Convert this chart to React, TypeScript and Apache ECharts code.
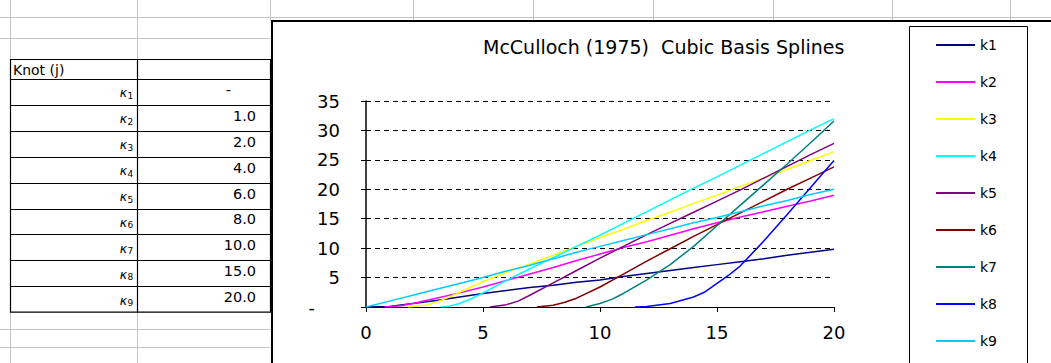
import React, { useEffect, useRef } from "react";
import * as echarts from "echarts";

// ---------- data ----------
const chartTitle = "McCulloch (1975)  Cubic Basis Splines";
const seriesNames = ["k1", "k2", "k3", "k4", "k5", "k6", "k7", "k8", "k9"];
const seriesColors = ["#000080", "#FF00FF", "#FFFF00", "#00FFFF", "#800080", "#800000", "#008080", "#0000FF", "#00CCFF"];

const k1: [number, number][] = [[0, 0], [1, 0.1], [2, 0.6], [3, 1.1], [4, 1.7], [5, 2.3], [6, 2.8], [7, 3.3], [8, 3.7], [9, 4.2], [10, 4.6], [11, 5.2], [12, 5.7], [13, 6.2], [14, 6.7], [15, 7.2], [16, 7.7], [17, 8.2], [18, 8.8], [19, 9.3], [20, 9.8]];
const k2: [number, number][] = [[0.8, 0], [1.5, 0.2], [2, 0.6], [3, 1.5], [4, 2.4], [5, 3.4], [6, 4.5], [7, 5.6], [8, 6.7], [9, 7.9], [10, 9.0], [11, 10.1], [12, 11.1], [13, 12.2], [14, 13.3], [15, 14.3], [16, 15.3], [17, 16.2], [18, 17.1], [19, 18.0], [20, 19.0]];
const k3: [number, number][] = [[1.8, 0], [2.5, 0.3], [3, 0.8], [3.5, 1.6], [4, 2.5], [5, 4.3], [6, 5.9], [7, 7.3], [8, 8.8], [9, 10.3], [10, 11.8], [11, 13.2], [12, 14.7], [13, 16.1], [14, 17.6], [15, 19.0], [16, 20.5], [17, 21.9], [18, 23.4], [19, 24.9], [20, 26.4]];
const k4: [number, number][] = [[3.2, 0], [3.5, 0.1], [4, 0.6], [4.5, 1.4], [5, 2.4], [6, 4.5], [7, 6.5], [8, 8.4], [9, 10.3], [10, 12.2], [11, 14.2], [12, 16.2], [13, 18.2], [14, 20.2], [15, 22.1], [16, 24.1], [17, 26.1], [18, 28.1], [19, 30.1], [20, 32.0]];
const k5: [number, number][] = [[5.3, 0], [6, 0.4], [6.5, 1.0], [7, 2.0], [8, 4.1], [9, 6.2], [10, 8.3], [11, 10.3], [12, 12.3], [13, 14.2], [14, 16.1], [15, 18.0], [16, 19.9], [17, 21.9], [18, 23.9], [19, 25.9], [20, 27.8]];
const k6: [number, number][] = [[7.3, 0], [8, 0.3], [8.5, 0.8], [9, 1.5], [10, 3.4], [11, 5.6], [12, 7.8], [13, 9.9], [14, 12.0], [15, 14.0], [16, 16.0], [17, 18.0], [18, 20.0], [19, 21.9], [20, 23.8]];
const k7: [number, number][] = [[9.4, 0], [10, 0.6], [10.5, 1.3], [11, 2.3], [12, 4.6], [13, 7.2], [14, 10.3], [15, 13.8], [16, 17.3], [17, 20.8], [18, 24.3], [19, 27.9], [20, 31.6]];
const k8: [number, number][] = [[11.5, 0], [12, 0.1], [13, 0.6], [14, 1.7], [14.5, 2.6], [15, 4.0], [15.5, 5.4], [16, 7.0], [17, 11.2], [18, 15.7], [19, 20.3], [20, 24.9]];
const k9: [number, number][] = [[0, 0], [1, 1.0], [2, 2.0], [3, 3.0], [4, 4.0], [5, 5.0], [6, 6.1], [7, 7.1], [8, 8.2], [9, 9.3], [10, 10.3], [11, 11.3], [12, 12.3], [13, 13.3], [14, 14.3], [15, 15.2], [16, 16.2], [17, 17.2], [18, 18.1], [19, 19.1], [20, 20.0]];
const seriesData = [k1, k2, k3, k4, k5, k6, k7, k8, k9];

const tableHeader = "Knot (j)";
const knotSymbol = "κ";
const knotIndex = ["1", "2", "3", "4", "5", "6", "7", "8", "9"];
const knotValues = ["-", "1.0", "2.0", "4.0", "6.0", "8.0", "10.0", "15.0", "20.0"];

const X_MIN = 0, X_MAX = 20, X_STEP = 5;
const Y_MIN = 0, Y_MAX = 35, Y_STEP = 5;

// ---------- layout ----------
const FONT = "DejaVu Sans";
const GRAY = "#c4c4c4";

function line(x1: number, y1: number, x2: number, y2: number, stroke: string, lineWidth = 1) {
  return { type: "line", silent: true, shape: { x1, y1, x2, y2 }, style: { stroke, lineWidth } };
}
function text(t: string, x: number, y: number, align: string, size: number, extra: any = {}) {
  return {
    type: "text",
    silent: true,
    x,
    y,
    style: {
      text: t,
      fill: "#000",
      fontSize: size,
      fontFamily: FONT,
      align,
      textAlign: align,
      verticalAlign: "middle",
      textVerticalAlign: "middle",
      ...extra,
    },
  };
}

function buildGraphics() {
  const g: any[] = [];
  // spreadsheet gridlines
  g.push(line(0, 17.5, 1051, 17.5, GRAY));
  g.push(line(0, 38.5, 272, 38.5, GRAY));
  g.push(line(0, 329.5, 272, 329.5, GRAY));
  g.push(line(0, 347.5, 272, 347.5, GRAY));
  [10.5, 137.5].forEach((x) => {
    g.push(line(x, 0, x, 59, GRAY));
    g.push(line(x, 312, x, 363, GRAY));
  });
  [270.5, 413.5, 533.5, 653.5, 773.5, 892.5, 1010.5].forEach((x) => g.push(line(x, 0, x, 21, GRAY)));

  // table
  const top = 59.5, headerBottom = 79, rowH = 25.9;
  const bottom = headerBottom + rowH * knotValues.length;
  g.push({ type: "rect", silent: true, shape: { x: 10.5, y: top, width: 260, height: bottom - top }, style: { fill: "none", stroke: "#000", lineWidth: 1.2 } });
  g.push(line(137.5, top, 137.5, bottom, "#000", 1.2));
  for (let i = 0; i < knotValues.length; i++) {
    const y = Math.round(headerBottom + rowH * i) + 0.5;
    g.push(line(10.5, y, 270.5, y, "#000", 1.2));
  }
  g.push(text(tableHeader, 13, 69.5, "left", 14));
  knotValues.forEach((v, i) => {
    const cy = headerBottom + rowH * (i + 0.5);
    g.push(text(knotSymbol, 127, cy + 1, "right", 12.5, { fontStyle: "italic" }));
    g.push(text(knotIndex[i], 127.5, cy + 4, "left", 9));
    if (v === "-") g.push(text(v, 231, cy - 2, "right", 14.5));
    else g.push(text(v, 256, cy - 2, "right", 14.5));
  });

  // chart frame and legend box
  g.push({ type: "rect", silent: true, shape: { x: 272, y: 21, width: 820, height: 400 }, style: { fill: "none", stroke: "#000", lineWidth: 2 } });
  g.push({ type: "rect", silent: true, shape: { x: 909.5, y: 26.5, width: 118, height: 360 }, style: { fill: "none", stroke: "#000", lineWidth: 1 } });
  return g;
}

export default function App() {
  const ref = useRef<HTMLDivElement>(null);
  useEffect(() => {
    if (!ref.current) return;
    const chart = echarts.init(ref.current, null, { renderer: "svg", width: 1051, height: 363 });
    const axisFont = { fontFamily: FONT, fontSize: 18, color: "#000" };
    chart.setOption({
      animation: false,
      backgroundColor: "#fff",
      title: {
        text: chartTitle,
        left: 483,
        top: 37,
        padding: 0,
        textStyle: { fontFamily: FONT, fontSize: 19, fontWeight: "normal", color: "#000" },
      },
      legend: {
        orient: "vertical",
        left: 936,
        top: 38,
        padding: 0,
        icon: "rect",
        itemWidth: 39,
        itemHeight: 2,
        itemGap: 23,
        textStyle: { fontFamily: FONT, fontSize: 14, lineHeight: 14, height: 14, color: "#000" },
        data: seriesNames,
      },
      grid: { left: 366, top: 101, width: 468, height: 206, containLabel: false },
      xAxis: {
        type: "value",
        min: X_MIN,
        max: X_MAX,
        interval: X_STEP,
        axisLine: { show: true, lineStyle: { color: "#000", width: 1 } },
        axisTick: { show: true, length: 5, lineStyle: { color: "#000" } },
        axisLabel: { margin: 16, ...axisFont },
        splitLine: { show: false },
      },
      yAxis: [
        {
          type: "value",
          min: Y_MIN,
          max: Y_MAX,
          interval: Y_STEP,
          position: "left",
          axisLine: { show: true, lineStyle: { color: "#000", width: 1.5 } },
          axisTick: { show: true, length: 5, lineStyle: { color: "#000" } },
          axisLabel: {
            margin: 26,
            ...axisFont,
            formatter: (v: number) => (v === 0 ? "{z|-}" : String(v)),
            rich: { z: { ...axisFont, padding: [0, 25, 0, 0] } },
          },
          splitLine: { show: true, lineStyle: { color: "#000", width: 1, type: [5, 4] } },
        },
        {
          type: "value",
          min: Y_MIN,
          max: Y_MAX,
          interval: Y_STEP,
          position: "left",
          offset: 0,
          axisLine: { show: false },
          axisTick: { show: true, inside: true, length: 5, lineStyle: { color: "#000" } },
          axisLabel: { show: false },
          splitLine: { show: false },
        },
      ],
      graphic: buildGraphics(),
      series: seriesNames.map((name, i) => ({
        name,
        type: "line",
        data: seriesData[i],
        symbol: "none",
        yAxisIndex: 0,
        lineStyle: { color: seriesColors[i], width: 1.5 },
        itemStyle: { color: seriesColors[i] },
        z: 3,
      })),
    });
    return () => chart.dispose();
  }, []);
  return <div ref={ref} style={{ position: "fixed", left: 0, top: 0, width: 1051, height: 363, background: "#fff" }} />;
}
